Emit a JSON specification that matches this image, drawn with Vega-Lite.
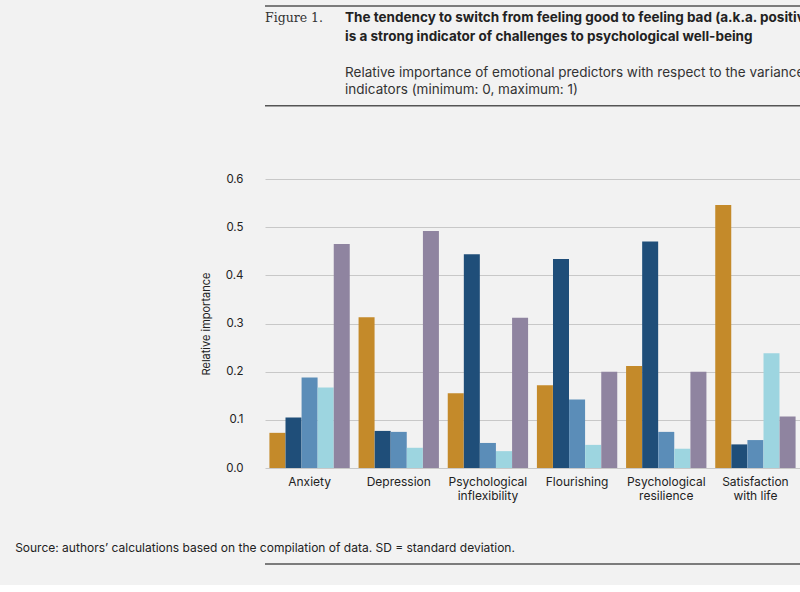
{
  "$schema": "https://vega.github.io/schema/vega-lite/v6.json",
  "background": "#f2f2f2",
  "padding": {"left": 15, "top": 5, "right": 5, "bottom": 5},
  "datasets": {
    "bars": [
      {"ind": "Anxiety", "pred": "Positive Affect|(mean)", "v": 0.073},
      {"ind": "Anxiety", "pred": "Positive Affect|(SD)", "v": 0.105},
      {"ind": "Anxiety", "pred": "Negative Affect|(mean)", "v": 0.188},
      {"ind": "Anxiety", "pred": "Negative Affect|(SD)", "v": 0.167},
      {"ind": "Anxiety", "pred": "Positive-to-Negative|Affect Shift Ratio", "v": 0.465},
      {"ind": "Depression", "pred": "Positive Affect|(mean)", "v": 0.313},
      {"ind": "Depression", "pred": "Positive Affect|(SD)", "v": 0.077},
      {"ind": "Depression", "pred": "Negative Affect|(mean)", "v": 0.075},
      {"ind": "Depression", "pred": "Negative Affect|(SD)", "v": 0.042},
      {"ind": "Depression", "pred": "Positive-to-Negative|Affect Shift Ratio", "v": 0.492},
      {"ind": "Psychological|inflexibility", "pred": "Positive Affect|(mean)", "v": 0.155},
      {"ind": "Psychological|inflexibility", "pred": "Positive Affect|(SD)", "v": 0.444},
      {"ind": "Psychological|inflexibility", "pred": "Negative Affect|(mean)", "v": 0.052},
      {"ind": "Psychological|inflexibility", "pred": "Negative Affect|(SD)", "v": 0.035},
      {"ind": "Psychological|inflexibility", "pred": "Positive-to-Negative|Affect Shift Ratio", "v": 0.312},
      {"ind": "Flourishing", "pred": "Positive Affect|(mean)", "v": 0.172},
      {"ind": "Flourishing", "pred": "Positive Affect|(SD)", "v": 0.434},
      {"ind": "Flourishing", "pred": "Negative Affect|(mean)", "v": 0.142},
      {"ind": "Flourishing", "pred": "Negative Affect|(SD)", "v": 0.048},
      {"ind": "Flourishing", "pred": "Positive-to-Negative|Affect Shift Ratio", "v": 0.200},
      {"ind": "Psychological|resilience", "pred": "Positive Affect|(mean)", "v": 0.212},
      {"ind": "Psychological|resilience", "pred": "Positive Affect|(SD)", "v": 0.470},
      {"ind": "Psychological|resilience", "pred": "Negative Affect|(mean)", "v": 0.075},
      {"ind": "Psychological|resilience", "pred": "Negative Affect|(SD)", "v": 0.040},
      {"ind": "Psychological|resilience", "pred": "Positive-to-Negative|Affect Shift Ratio", "v": 0.200},
      {"ind": "Satisfaction|with life", "pred": "Positive Affect|(mean)", "v": 0.546},
      {"ind": "Satisfaction|with life", "pred": "Positive Affect|(SD)", "v": 0.049},
      {"ind": "Satisfaction|with life", "pred": "Negative Affect|(mean)", "v": 0.058},
      {"ind": "Satisfaction|with life", "pred": "Negative Affect|(SD)", "v": 0.238},
      {"ind": "Satisfaction|with life", "pred": "Positive-to-Negative|Affect Shift Ratio", "v": 0.107}
    ],
    "header": [
      {"kind": "fig", "txt": "Figure 1.", "col": 0, "row": 0.6},
      {"kind": "title", "txt": "The tendency to switch from feeling good to feeling bad (a.k.a. positive-to-negative affect shift ratio)", "col": 0.104, "row": 0.6},
      {"kind": "title", "txt": "is a strong indicator of challenges to psychological well-being", "col": 0.104, "row": 1.6},
      {"kind": "sub", "txt": "Relative importance of emotional predictors with respect to the variance in psychological well-being", "col": 0.104, "row": 3.45},
      {"kind": "sub", "txt": "indicators (minimum: 0, maximum: 1)", "col": 0.104, "row": 4.3}
    ],
    "headerRules": [
      {"row": 0, "c0": 0, "c1": 1},
      {"row": 5.1, "c0": 0, "c1": 1}
    ],
    "footer": [
      {"side": 0, "txt": "Source: authors’ calculations based on the compilation of data. SD = standard deviation.", "row": 0.7},
      {"side": 1, "txt": "The Social Observatory of the “la Caixa” Foundation.", "row": 3.3}
    ],
    "footerRules": [
      {"row": 2.3, "c0": 0, "c1": 1}
    ]
  },
  "vconcat": [
    {
      "width": 770,
      "height": 127,
      "layer": [
        {
          "data": {"name": "headerRules"},
          "mark": {"type": "rule", "color": "#555", "strokeWidth": 1.5},
          "encoding": {
            "x": {"field": "c0", "type": "quantitative", "scale": {"domain": [0, 1], "range": [0, 770]}, "axis": null},
            "x2": {"field": "c1"},
            "y": {"field": "row", "type": "quantitative", "scale": {"domain": [0, 6.35], "range": [0, 127]}, "axis": null}
          }
        },
        {
          "data": {"name": "header"},
          "transform": [{"filter": "datum.kind == 'fig'"}],
          "mark": {"type": "text", "align": "left", "baseline": "middle", "font": "DejaVu Serif", "fontSize": 12.5, "color": "#333"},
          "encoding": {
            "x": {"field": "col", "type": "quantitative"},
            "y": {"field": "row", "type": "quantitative"},
            "text": {"field": "txt"}
          }
        },
        {
          "data": {"name": "header"},
          "transform": [{"filter": "datum.kind == 'title'"}],
          "mark": {"type": "text", "align": "left", "baseline": "middle", "font": "Inter", "fontSize": 13.5, "fontWeight": "bold", "color": "#222"},
          "encoding": {
            "x": {"field": "col", "type": "quantitative"},
            "y": {"field": "row", "type": "quantitative"},
            "text": {"field": "txt"}
          }
        },
        {
          "data": {"name": "header"},
          "transform": [{"filter": "datum.kind == 'sub'"}],
          "mark": {"type": "text", "align": "left", "baseline": "middle", "font": "Inter", "fontSize": 13.5, "color": "#333"},
          "encoding": {
            "x": {"field": "col", "type": "quantitative"},
            "y": {"field": "row", "type": "quantitative"},
            "text": {"field": "txt"}
          }
        }
      ]
    },
    {
      "width": 535,
      "height": 289,
      "data": {"name": "bars"},
      "mark": {"type": "bar", "width": 16},
      "encoding": {
        "x": {"field": "ind", "type": "nominal", "sort": null, "title": null,
          "scale": {"paddingInner": 0.08, "paddingOuter": 0.04},
          "axis": {"labelAngle": 0, "labelExpr": "split(datum.label, '|')", "ticks": false, "domain": false, "labelPadding": 8, "labelFontSize": 12, "labelColor": "#222"}},
        "xOffset": {"field": "pred", "type": "nominal", "sort": null, "scale": {"paddingInner": 0, "paddingOuter": 0.05}},
        "y": {"field": "v", "type": "quantitative", "title": "Relative importance",
          "scale": {"domain": [0, 0.6]},
          "axis": {"values": [0, 0.1, 0.2, 0.3, 0.4, 0.5, 0.6], "format": ".1f", "ticks": false, "domain": false, "labelPadding": 22, "titlePadding": 14, "titleFontWeight": "normal", "titleFontSize": 11, "labelFontSize": 11.5, "labelColor": "#222", "titleColor": "#222", "gridColor": "#c8c8c8"}},
        "color": {"field": "pred", "type": "nominal", "sort": null, "title": null,
          "scale": {"range": ["#c48a2a", "#1f4e79", "#5b8db8", "#9dd5e0", "#8f84a0"]},
          "legend": {"orient": "right", "offset": 20, "labelExpr": "split(datum.label, '|')", "symbolType": "square", "symbolSize": 220, "symbolStrokeWidth": 0, "symbolOpacity": 1, "labelFontSize": 11.5, "labelColor": "#333", "rowPadding": 12, "labelLimit": 200, "padding": 0}}
      }
    },
    {
      "width": 770,
      "height": 30,
      "layer": [
        {
          "data": {"name": "footerRules"},
          "mark": {"type": "rule", "color": "#555", "strokeWidth": 1.5},
          "encoding": {
            "x": {"field": "c0", "type": "quantitative", "scale": {"domain": [0, 1], "range": [0, 770]}, "axis": null},
            "x2": {"field": "c1"},
            "y": {"field": "row", "type": "quantitative", "scale": {"domain": [0, 3], "range": [0, 30]}, "axis": null}
          }
        },
        {
          "data": {"name": "footer"},
          "mark": {"type": "text", "font": "Inter", "fontSize": 12, "color": "#222", "baseline": "middle"},
          "encoding": {
            "x": {"field": "side", "type": "quantitative"},
            "y": {"field": "row", "type": "quantitative"},
            "align": {"condition": {"test": "datum.side == 1", "value": "right"}, "value": "left"},
            "text": {"field": "txt"}
          }
        }
      ]
    }
  ],
  "spacing": 40,
  "config": {
    "view": {"stroke": null},
    "font": "Inter",
    "axis": {"labelFont": "Inter", "titleFont": "Inter"},
    "legend": {"labelFont": "Inter"}
  }
}
